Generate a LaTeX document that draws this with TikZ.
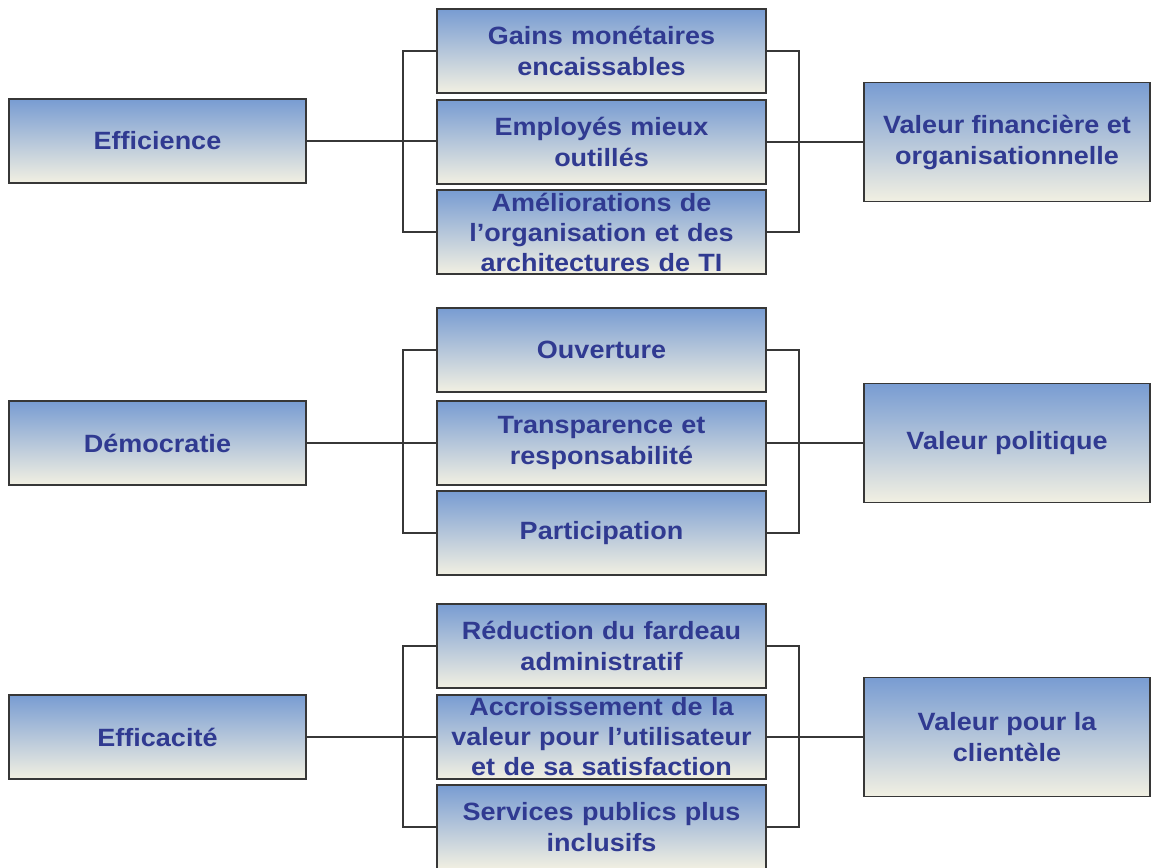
\documentclass[tikz,border=0pt]{standalone}
\usepackage{fontspec}
\setmainfont{Liberation Sans}[FakeStretch=1.08]
\definecolor{txtblue}{RGB}{48,58,145}
\definecolor{topblue}{RGB}{120,156,210}
\definecolor{botcream}{RGB}{242,240,226}
\definecolor{edge}{RGB}{55,55,55}
\begin{document}
\begin{tikzpicture}[x=1pt,y=-1pt,
  box/.style={draw=edge, line width=1.8pt, top color=topblue, bottom color=botcream,
    inner xsep=2pt, inner ysep=0pt, align=center, text=txtblue,
    font=\bfseries\fontsize{25}{31}\selectfont},
  leftbox/.style={box, minimum width=297, minimum height=84},
  midbox/.style={box, minimum width=329, minimum height=84, text width=325},
  threeline/.style={inner ysep=-4pt, font=\bfseries\fontsize{25}{30}\selectfont},
  rightbox/.style={box, minimum width=286, minimum height=119},
  conn/.style={draw=edge, line width=1.6pt}]
\useasboundingbox (0,0) rectangle (1153,867);
\fill[white] (0,0) rectangle (1153,867);

% Group 1
\node[leftbox] (L1) at (157.5,141) {Efficience};
\node[midbox] (m11) at (601.5,51) {Gains monétaires\\encaissables};
\node[midbox] (m12) at (601.5,142) {Employés mieux\\outillés};
\node[midbox,threeline] (m13) at (601.5,232) {Améliorations de\\l’organisation et des\\architectures de TI};
\node[rightbox] (R1) at (1007,142) {Valeur financière et\\organisationnelle};

% Group 2
\node[leftbox] (L2) at (157.5,443) {Démocratie};
\node[midbox] (m21) at (601.5,350) {Ouverture};
\node[midbox] (m22) at (601.5,443) {Transparence et\\responsabilité};
\node[midbox] (m23) at (601.5,533) {Participation};
\node[rightbox] (R2) at (1007,443) {Valeur politique};

% Group 3
\node[leftbox] (L3) at (157.5,737) {Efficacité};
\node[midbox] (m31) at (601.5,646) {Réduction du fardeau\\administratif};
\node[midbox,threeline] (m32) at (601.5,737) {Accroissement de la\\valeur pour l’utilisateur\\et de sa satisfaction};
\node[midbox] (m33) at (601.5,827) {Services publics plus\\inclusifs};
\node[rightbox] (R3) at (1007,737) {Valeur pour la\\clientèle};

% Connectors
\foreach \g in {1,2,3}{
  \draw[conn] (L\g.east) -- (L\g.east -| m\g2.west);
  \draw[conn] (m\g1.west) -- ++(-33,0) |- (m\g3.west);
  \draw[conn] (m\g1.east) -- ++(32,0) |- (m\g3.east);
  \draw[conn] (m\g2.east) -- (m\g2.east -| R\g.west);
}
\end{tikzpicture}
\end{document}
